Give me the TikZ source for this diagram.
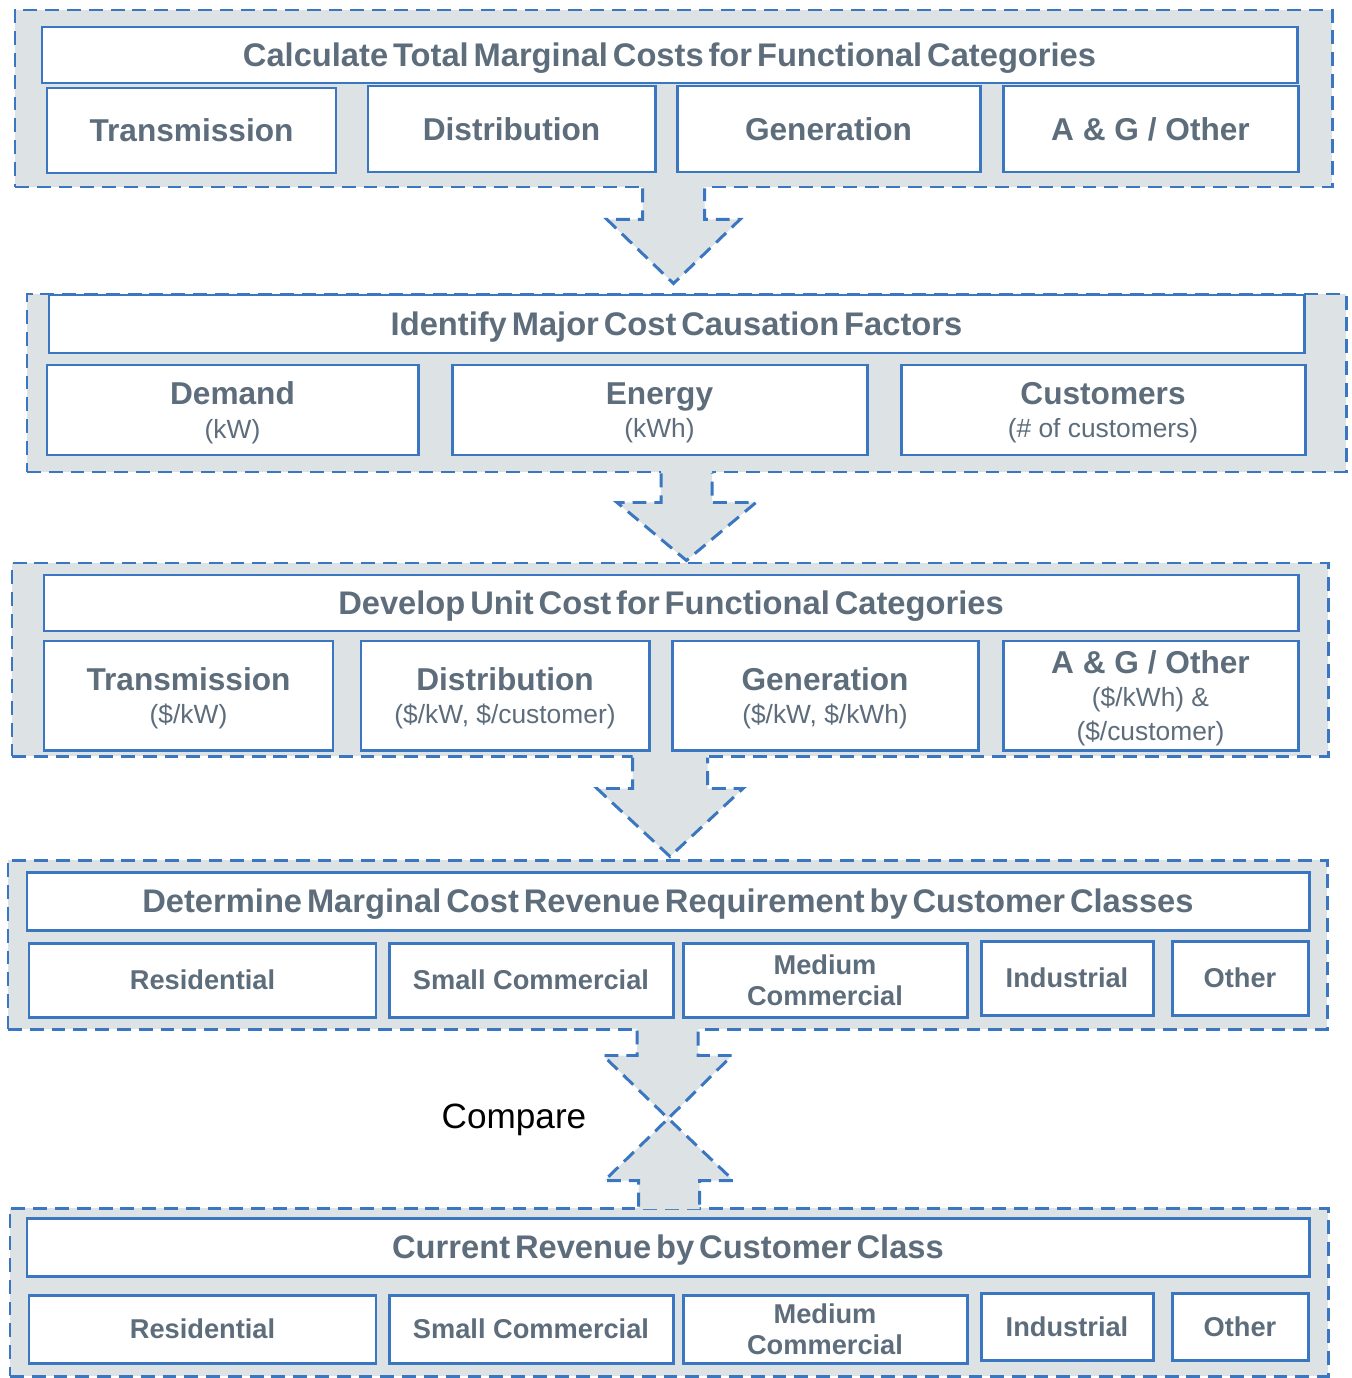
\documentclass[tikz,border=0pt]{standalone}
\usepackage{fontspec}
\setmainfont{Liberation Sans}
\usetikzlibrary{calc}
\definecolor{edge}{HTML}{3A77C0}
\definecolor{bggrey}{HTML}{DDE2E5}
\definecolor{txt}{HTML}{5D6D7B}
\newcommand{\titlefont}{\fontsize{18.6}{19}\selectfont\bfseries\spaceskip 0.15em\relax}
\newcommand{\unitline}[1]{{\fontsize{15}{19}\selectfont\mdseries #1}}
% #1 panel edge, #2 tip, #3 stem half width, #4 head half width, #5 stem length
\newcommand{\blockarrow}[5]{%
  \fill[bggrey] ($(#1)+(-#3,{-0.1*(#5)})$) -- ($(#1)+(-#3,#5)$) -- ($(#1)+(-#4,#5)$) -- (#2)
    -- ($(#1)+(#4,#5)$) -- ($(#1)+(#3,#5)$) -- ($(#1)+(#3,{-0.1*(#5)})$) -- cycle;
  \draw[dashline] ($(#1)+(-#3,0)$) -- ($(#1)+(-#3,#5)$) -- ($(#1)+(-#4,#5)$) -- (#2)
    -- ($(#1)+(#4,#5)$) -- ($(#1)+(#3,#5)$) -- ($(#1)+(#3,0)$);}
\tikzset{cellat/.style n args={4}{minimum width={(#3-#1)*0.02cm},minimum height={(#4-#2)*0.02cm},
    at={({(#1+#3)/2},{(#2+#4)/2})}},
  panel/.style={draw=edge,fill=bggrey,line width=1.7pt,dash pattern=on 7.9pt off 4.5pt,inner sep=0pt},
  dashline/.style={draw=edge,line width=1.7pt,dash pattern=on 7.9pt off 4.5pt},
  titlebox/.style={draw=edge,fill=white,line width=1.7pt,inner sep=0pt,text=txt,font=\titlefont,text depth=0pt},
  cellbox/.style={titlebox,align=center,font=\fontsize{18}{19}\selectfont\bfseries},
  classbox/.style={cellbox,font=\fontsize{15.5}{18}\selectfont\bfseries}}

\begin{document}
\begin{tikzpicture}[x=0.02cm,y=-0.02cm]
  \useasboundingbox (0,0) rectangle (1351,1378);
  % functional categories
  \node[panel,cellat={15}{10}{1332}{187}] (p1) {};
  \node[titlebox,cellat={42}{27}{1297}{83}] (p1t) {Calculate Total Marginal Costs for Functional Categories};
  \node[cellbox,cellat={47}{88}{336}{173}] (p1a) {Transmission};
  \node[cellbox,cellat={368}{86}{655}{172}] (p1b) {Distribution};
  \node[cellbox,cellat={677}{86}{980}{172}] (p1c) {Generation};
  \node[cellbox,cellat={1003}{86}{1298}{172}] (p1d) {A \& G / Other};
  % cost causation
  \node[panel,cellat={27}{294}{1346}{472}] (p2) {};
  \node[titlebox,cellat={49}{295}{1304}{353}] (p2t) {Identify Major Cost Causation Factors};
  \node[cellbox,cellat={47}{365}{418}{455}] (p2a) {Demand\\\unitline{(kW)}};
  \node[cellbox,cellat={452}{365}{867}{455}] (p2b) {Energy\\\unitline{(kWh)}};
  \node[cellbox,cellat={901}{365}{1305}{455}] (p2c) {Customers\\\unitline{(\# of customers)}};
  % unit costs
  \node[panel,cellat={12}{563}{1328}{756}] (p3) {};
  \node[titlebox,cellat={44}{575}{1298}{631}] (p3t) {Develop Unit Cost for Functional Categories};
  \node[cellbox,cellat={44}{641}{333}{750}] (p3a) {Transmission\\\unitline{(\$/kW)}};
  \node[cellbox,cellat={361}{641}{649}{750}] (p3b) {Distribution\\\unitline{(\$/kW, \$/customer)}};
  \node[cellbox,cellat={672}{641}{978}{750}] (p3c) {Generation\\\unitline{(\$/kW, \$/kWh)}};
  \node[cellbox,cellat={1003}{641}{1298}{750}] (p3d) {A \& G / Other\\\unitline{(\$/kWh) \&}\\\unitline{(\$/customer)}};
  % revenue requirement
  \node[panel,cellat={8}{860}{1327}{1029}] (p4) {};
  \node[titlebox,cellat={27}{872}{1309}{930}] (p4t) {Determine Marginal Cost Revenue Requirement by Customer Classes};
  \node[classbox,cellat={29}{943}{376}{1017}] (p4a) {Residential};
  \node[classbox,cellat={389}{943}{673}{1017}] (p4b) {Small Commercial};
  \node[classbox,cellat={683}{943}{967}{1017}] (p4c) {Medium\\Commercial};
  \node[classbox,cellat={981}{941}{1153}{1015}] (p4d) {Industrial};
  \node[classbox,cellat={1172}{941}{1308}{1015}] (p4e) {Other};
  % current revenue
  \node[panel,cellat={10}{1208}{1328}{1376}] (p5) {};
  \node[titlebox,cellat={27}{1218}{1309}{1276}] (p5t) {Current Revenue by Customer Class};
  \node[classbox,cellat={29}{1295}{376}{1363}] (p5a) {Residential};
  \node[classbox,cellat={389}{1295}{673}{1363}] (p5b) {Small Commercial};
  \node[classbox,cellat={683}{1295}{967}{1363}] (p5c) {Medium\\Commercial};
  \node[classbox,cellat={981}{1293}{1153}{1360}] (p5d) {Industrial};
  \node[classbox,cellat={1172}{1293}{1308}{1360}] (p5e) {Other};
  % arrows between steps
  \blockarrow{p1.south}{$(p1.south|-p2.north)+(0,-9)$}{31}{66.5}{31}
  \blockarrow{p2.south}{$(p2.south|-p3.north)+(0,-1)$}{25.5}{69.5}{29}
  \blockarrow{p3.south}{$(p3.south|-p4.north)+(0,-2)$}{37.5}{73}{31}
  \blockarrow{p4.south}{$(p4.south)!0.5!(p5.north)$}{30.5}{64.5}{25}
  \blockarrow{p5.north}{$(p4.south)!0.5!(p5.north)$}{30.5}{64.5}{-26}
  \node[font=\fontsize{20}{24}\selectfont] (cmp) at (514,1120) {Compare};
\end{tikzpicture}
\end{document}
